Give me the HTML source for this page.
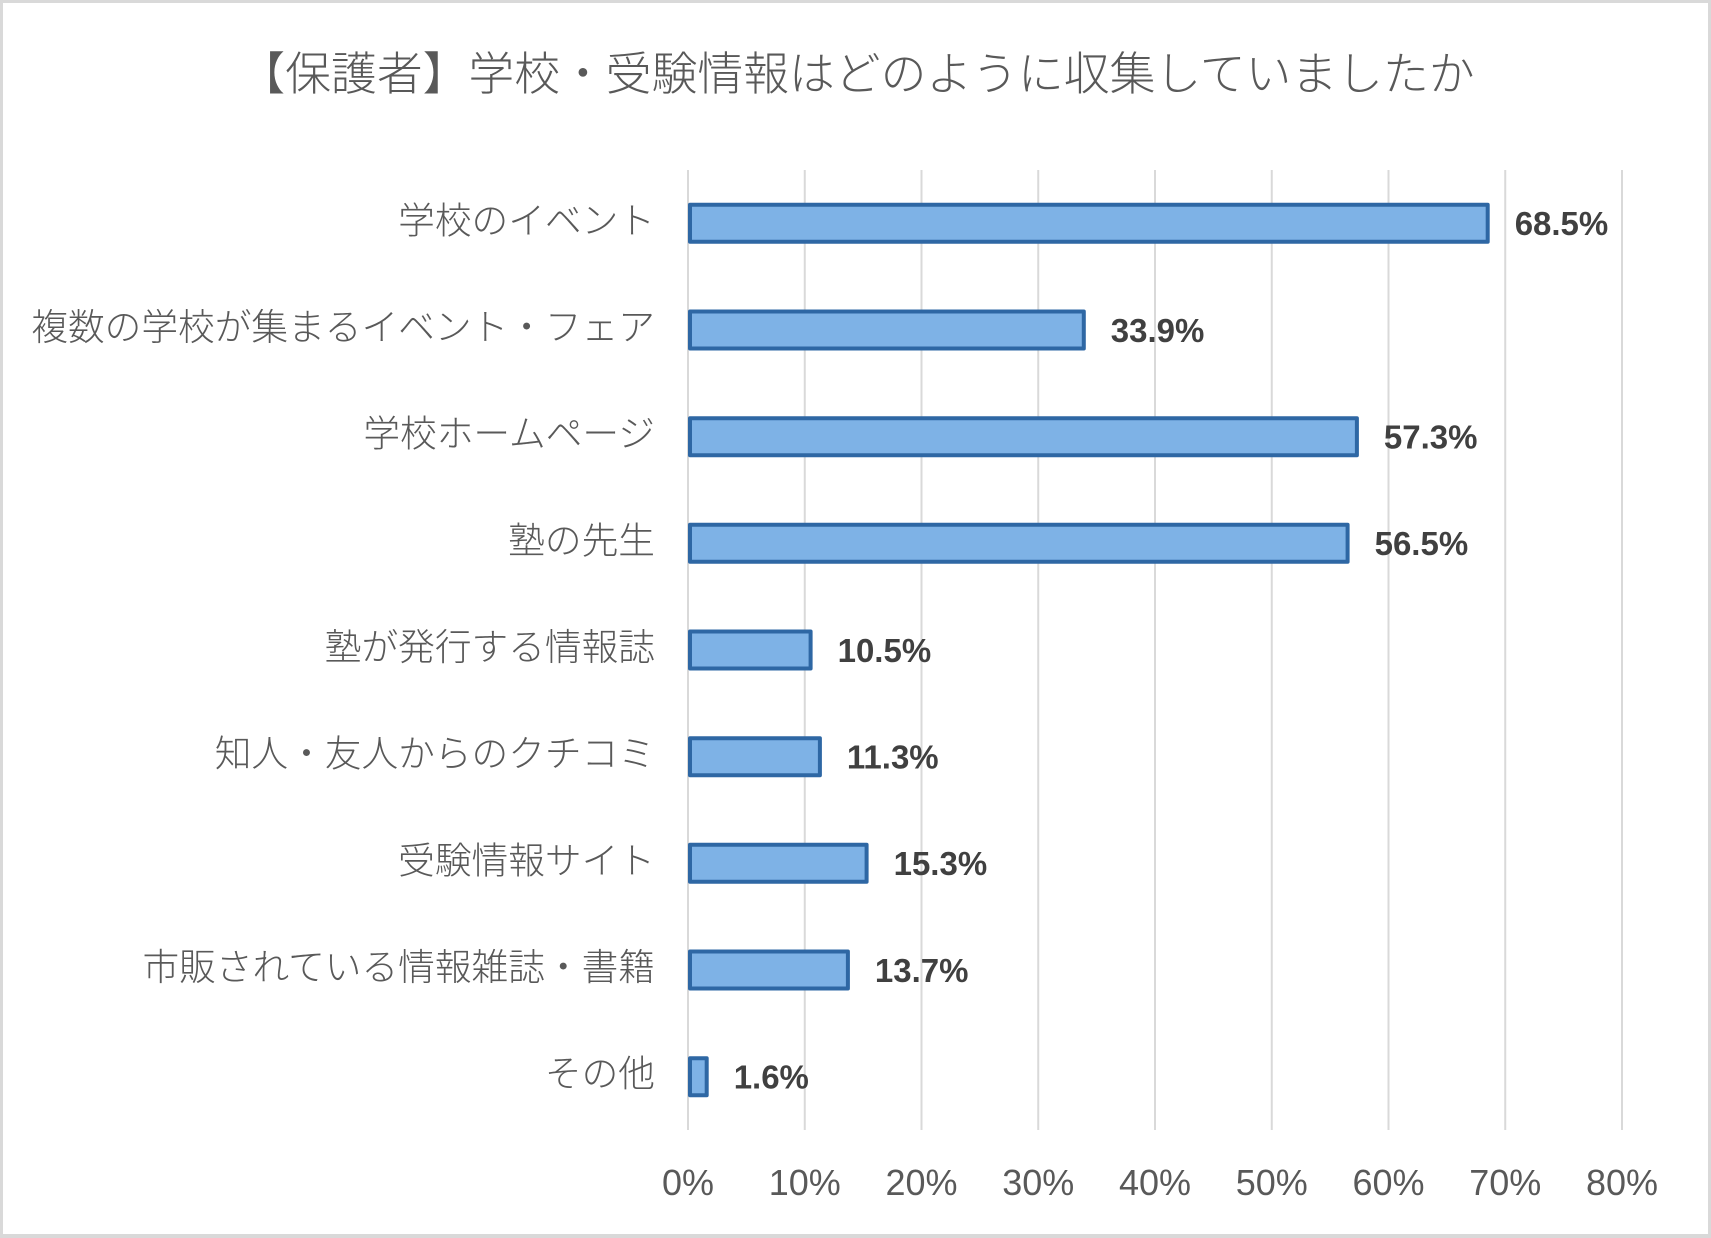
<!DOCTYPE html>
<html>
<head>
<meta charset="utf-8">
<style>
  html, body { margin: 0; padding: 0; background: #ffffff; }
  .frame { position: relative; width: 1711px; height: 1238px; box-sizing: border-box; border: 3px solid #d9d9d9; border-bottom-width: 4px; background: #fff; overflow: hidden; }
  svg { position: absolute; left: -3px; top: -3px; }
  .cjk { font-family: "Liberation Sans", "Noto Sans CJK JP", sans-serif; font-weight: 300; }
  .num { font-family: "Liberation Sans", sans-serif; }
</style>
</head>
<body>
<div class="frame">
<svg width="1711" height="1238" viewBox="0 0 1711 1238" xmlns="http://www.w3.org/2000/svg">
  <!-- title -->
  <text x="857" y="90" text-anchor="middle" class="cjk" font-size="45.8" fill="#595959">【保護者】学校・受験情報はどのように収集していましたか</text>

  <!-- gridlines -->
  <g stroke="#d9d9d9" stroke-width="2">
    <line x1="688" y1="170" x2="688" y2="1130"/>
    <line x1="804.75" y1="170" x2="804.75" y2="1130"/>
    <line x1="921.5" y1="170" x2="921.5" y2="1130"/>
    <line x1="1038.25" y1="170" x2="1038.25" y2="1130"/>
    <line x1="1155" y1="170" x2="1155" y2="1130"/>
    <line x1="1271.75" y1="170" x2="1271.75" y2="1130"/>
    <line x1="1388.5" y1="170" x2="1388.5" y2="1130"/>
    <line x1="1505.25" y1="170" x2="1505.25" y2="1130"/>
    <line x1="1622" y1="170" x2="1622" y2="1130"/>
  </g>

  <!-- tick labels -->
  <g class="num" font-size="36" fill="#595959" text-anchor="middle">
    <text x="688" y="1195">0%</text>
    <text x="804.75" y="1195">10%</text>
    <text x="921.5" y="1195">20%</text>
    <text x="1038.25" y="1195">30%</text>
    <text x="1155" y="1195">40%</text>
    <text x="1271.75" y="1195">50%</text>
    <text x="1388.5" y="1195">60%</text>
    <text x="1505.25" y="1195">70%</text>
    <text x="1622" y="1195">80%</text>
  </g>

  <!-- bars -->
  <g fill="#7EB2E6" stroke="#2E67A4" stroke-width="4" stroke-linejoin="round">
    <rect x="690" y="204.8" width="797.7" height="37"/>
    <rect x="690" y="311.5" width="393.8" height="37"/>
    <rect x="690" y="418.2" width="666.9" height="37"/>
    <rect x="690" y="524.8" width="657.6" height="37"/>
    <rect x="690" y="631.5" width="120.6" height="37"/>
    <rect x="690" y="738.2" width="129.9" height="37"/>
    <rect x="690" y="844.8" width="176.6" height="37"/>
    <rect x="690" y="951.5" width="157.9" height="37"/>
    <rect x="690" y="1058.2" width="16.7" height="37"/>
  </g>

  <!-- data labels -->
  <g class="num" font-size="33" font-weight="bold" fill="#404040">
    <text x="1514.7" y="235.1">68.5%</text>
    <text x="1110.8" y="341.8">33.9%</text>
    <text x="1383.9" y="448.5">57.3%</text>
    <text x="1374.6" y="555.1">56.5%</text>
    <text x="837.6" y="661.8">10.5%</text>
    <text x="846.9" y="768.5">11.3%</text>
    <text x="893.6" y="875.1">15.3%</text>
    <text x="874.9" y="981.8">13.7%</text>
    <text x="733.7" y="1088.5">1.6%</text>
  </g>

  <!-- category labels -->
  <g class="cjk" font-size="36.7" fill="#595959" text-anchor="end">
    <text x="655" y="233.3">学校のイベント</text>
    <text x="655" y="340">複数の学校が集まるイベント・フェア</text>
    <text x="655" y="446.7">学校ホームページ</text>
    <text x="655" y="553.3">塾の先生</text>
    <text x="655" y="660">塾が発行する情報誌</text>
    <text x="655" y="766.7">知人・友人からのクチコミ</text>
    <text x="655" y="873.3">受験情報サイト</text>
    <text x="655" y="980">市販されている情報雑誌・書籍</text>
    <text x="655" y="1086.7">その他</text>
  </g>
</svg>
</div>
</body>
</html>
